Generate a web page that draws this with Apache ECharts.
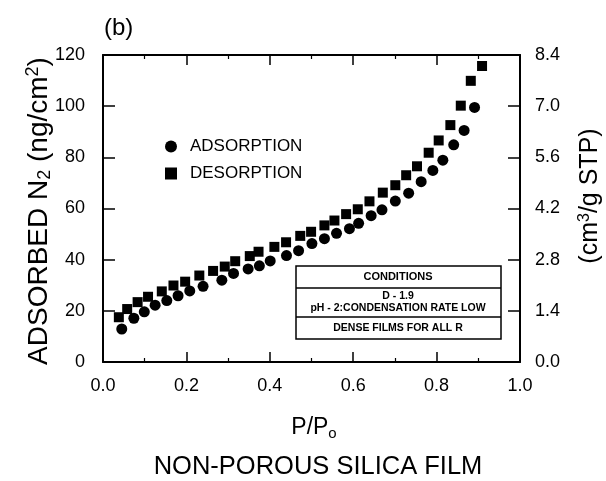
<!DOCTYPE html>
<html>
<head>
<meta charset="utf-8">
<script src="https://cdn.jsdelivr.net/npm/echarts@6/dist/echarts.min.js"></script>
<style>
html,body{margin:0;padding:0;background:#fff;}
#chart{width:606px;height:481px;}
</style>
</head>
<body>
<div id="chart"></div>
<script>
// ---- data ----
var adsX = [0.045,0.074,0.099,0.125,0.153,0.180,0.208,0.240,0.285,0.313,0.348,0.375,0.401,0.440,0.469,0.501,0.531,0.560,0.591,0.613,0.643,0.669,0.701,0.733,0.763,0.791,0.815,0.841,0.866,0.891];
var adsY = [12.9,17.1,19.6,22.2,24.0,25.9,27.8,29.6,32.0,34.6,36.4,37.6,39.5,41.6,43.5,46.3,48.2,50.3,52.1,54.2,57.2,59.5,62.9,66.0,70.5,74.9,78.9,84.9,90.5,99.5];
var desX = [0.038,0.058,0.083,0.108,0.141,0.169,0.197,0.231,0.264,0.292,0.317,0.352,0.373,0.411,0.439,0.473,0.499,0.531,0.555,0.583,0.611,0.639,0.671,0.701,0.727,0.753,0.781,0.805,0.833,0.858,0.882,0.909];
var desY = [17.5,20.7,23.4,25.5,27.6,29.9,31.4,33.8,35.6,37.3,39.4,41.4,43.1,45.0,46.8,49.3,50.9,53.4,55.3,57.8,59.7,62.8,66.2,69.1,73.0,76.5,81.8,86.6,92.6,100.2,109.9,115.7];
var seriesNames = ['ADSORPTION','DESORPTION'];
var conditionLines = ['CONDITIONS','D - 1.9','pH - 2:CONDENSATION RATE LOW','DENSE FILMS FOR ALL R'];

function zip(a,b){ return a.map(function(v,i){ return [v,b[i]]; }); }

var FONT = 'Liberation Sans, Arial, Helvetica, sans-serif';
var chart = echarts.init(document.getElementById('chart'), null, {renderer:'canvas'});
function axisLine(){ return {show:true, onZero:false, lineStyle:{color:'#000', width:2}}; }
function ticks(len){ return {show:true, inside:true, length:len, lineStyle:{color:'#000', width:1.5}}; }
function minor(){ return {show:true, splitNumber:2, length:4, lineStyle:{color:'#000', width:1.2}}; }

var option = {
  backgroundColor:'#fff',
  animation:false,
  textStyle:{fontFamily:FONT, color:'#000'},
  title:{text:'(b)', left:99, top:11, textStyle:{fontFamily:FONT, fontSize:24, fontWeight:'normal', color:'#000'}},
  grid:{left:103, right:86, top:55, bottom:119, containLabel:false},
  legend:{
    orient:'vertical', left:160, top:133, itemGap:10,
    itemWidth:12, itemHeight:12,
    textStyle:{fontFamily:FONT, fontSize:17, color:'#000', padding:[0,0,0,8]},
    data:[{name:seriesNames[0], icon:'circle', itemStyle:{color:'#000', opacity:1}},{name:seriesNames[1], icon:'rect', itemStyle:{color:'#000', opacity:1}}]
  },
  xAxis:[
    {type:'value', position:'bottom', min:0, max:1, interval:0.2,
     axisLine:axisLine(), axisTick:ticks(10), minorTick:minor(),
     splitLine:{show:false}, minorSplitLine:{show:false},
     axisLabel:{fontFamily:FONT, fontSize:18, color:'#000', margin:15, formatter:function(v){return v.toFixed(1);}}},
    {type:'value', position:'top', min:0, max:1, interval:0.2,
     axisLine:axisLine(), axisTick:ticks(10), minorTick:minor(),
     splitLine:{show:false}, minorSplitLine:{show:false}, axisLabel:{show:false}}
  ],
  yAxis:[
    {type:'value', position:'left', min:0, max:120, interval:20,
     axisLine:axisLine(), axisTick:ticks(12),
     splitLine:{show:false},
     axisLabel:{fontFamily:FONT, fontSize:18, color:'#000', margin:18}},
    {type:'value', position:'right', min:0, max:8.4, interval:1.4,
     axisLine:axisLine(), axisTick:ticks(12),
     splitLine:{show:false},
     axisLabel:{fontFamily:FONT, fontSize:18, color:'#000', margin:15, formatter:function(v){return v.toFixed(1);}}}
  ],
  series:[
    {name:seriesNames[0], type:'scatter', xAxisIndex:0, yAxisIndex:0, symbol:'circle', symbolSize:11,
     itemStyle:{color:'#000', opacity:1}, data:zip(adsX, adsY)},
    {name:seriesNames[1], type:'scatter', xAxisIndex:0, yAxisIndex:0, symbol:'rect', symbolSize:10,
     itemStyle:{color:'#000', opacity:1}, data:zip(desX, desY)}
  ],
  graphic:[
    {type:'text', x:39, y:211, rotation:Math.PI/2,
     style:{text:'ADSORBED N{sub|2} (ng/cm{sup|2})', fontFamily:FONT, fontSize:28, fill:'#000',
       align:'center', verticalAlign:'middle',
       rich:{sub:{fontSize:18, verticalAlign:'bottom', padding:[12,0,0,0], fontFamily:FONT},
             sup:{fontSize:18, verticalAlign:'top', padding:[0,0,12,0], fontFamily:FONT}}}},
    {type:'text', x:590, y:196, rotation:Math.PI/2,
     style:{text:'(cm{sup|3}/g STP)', fontFamily:FONT, fontSize:25, fill:'#000',
       align:'center', verticalAlign:'middle',
       rich:{sup:{fontSize:16, verticalAlign:'top', padding:[0,0,10,0], fontFamily:FONT}}}},
    {type:'text', x:314, y:428,
     style:{text:'P/P{sub|o}', fontFamily:FONT, fontSize:23, fill:'#000', align:'center', verticalAlign:'middle',
       rich:{sub:{fontSize:15, padding:[12,0,0,0], fontFamily:FONT}}}},
    {type:'text', x:318, y:467,
     style:{text:'NON-POROUS SILICA FILM', fontFamily:FONT, fontSize:25.5, fill:'#000', align:'center', verticalAlign:'middle'}},
    // conditions box
    {type:'rect', shape:{x:296, y:266, width:205, height:73}, style:{fill:'#fff', stroke:'#000', lineWidth:1.5}},
    {type:'line', shape:{x1:296, y1:288, x2:501, y2:288}, style:{stroke:'#000', lineWidth:1.5}},
    {type:'line', shape:{x1:296, y1:317, x2:501, y2:317}, style:{stroke:'#000', lineWidth:1.5}},
    {type:'text', x:398, y:277, style:{text:conditionLines[0], fontFamily:FONT, fontSize:11, fontWeight:'bold', fill:'#000', align:'center', verticalAlign:'middle'}},
    {type:'text', x:398, y:296, style:{text:conditionLines[1], fontFamily:FONT, fontSize:10.5, fontWeight:'bold', fill:'#000', align:'center', verticalAlign:'middle'}},
    {type:'text', x:398, y:308, style:{text:conditionLines[2], fontFamily:FONT, fontSize:10.5, fontWeight:'bold', fill:'#000', align:'center', verticalAlign:'middle'}},
    {type:'text', x:398, y:328, style:{text:conditionLines[3], fontFamily:FONT, fontSize:10.5, fontWeight:'bold', fill:'#000', align:'center', verticalAlign:'middle'}}
  ]
};
chart.setOption(option);
</script>
</body>
</html>
